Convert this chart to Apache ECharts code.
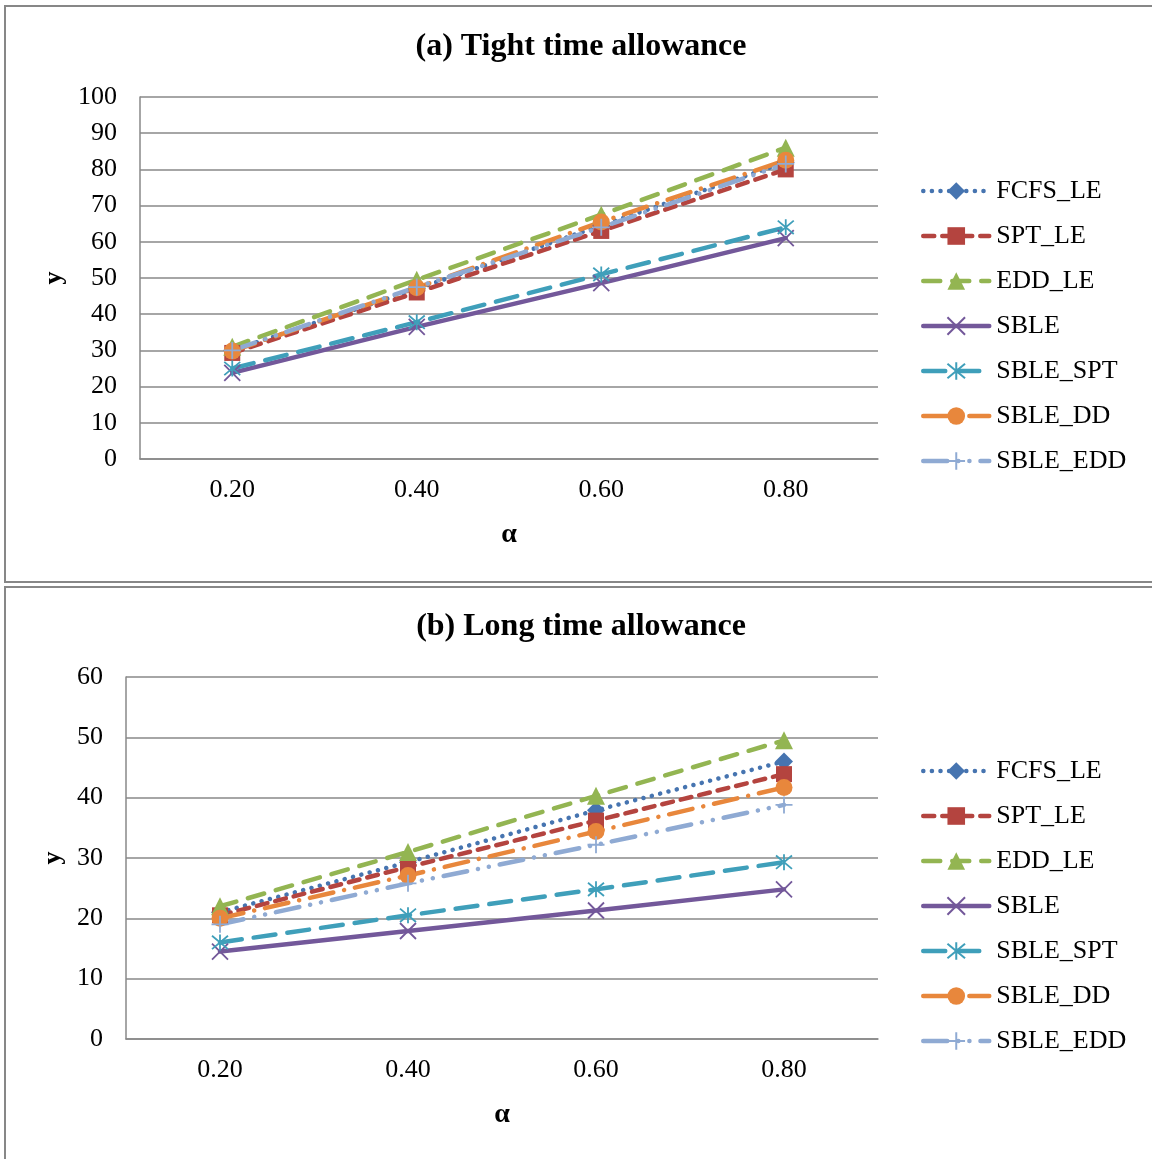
<!DOCTYPE html>
<html>
<head>
<meta charset="utf-8">
<script src="https://cdn.jsdelivr.net/npm/echarts@6/dist/echarts.min.js"></script>
<style>
html,body{margin:0;padding:0;background:#fff;}
#c{width:1152px;height:1159px;}
</style>
</head>
<body>
<div id="c"></div>
<script>
const alphaCats = ['0.20', '0.40', '0.60', '0.80'];
const seriesNames = ['FCFS_LE', 'SPT_LE', 'EDD_LE', 'SBLE', 'SBLE_SPT', 'SBLE_DD', 'SBLE_EDD'];
const yTicksA = [0, 10, 20, 30, 40, 50, 60, 70, 80, 90, 100];
const yTicksB = [0, 10, 20, 30, 40, 50, 60];
const titleA = '(a) Tight time allowance';
const titleB = '(b) Long time allowance';

// (a) Tight time allowance
const a_FCFS_LE  = [30.0, 47.0, 64.5, 82.0];
const a_SPT_LE   = [29.3, 46.0, 63.0, 80.0];
const a_EDD_LE   = [31.0, 49.5, 67.5, 86.0];
const a_SBLE     = [23.8, 36.5, 48.6, 61.0];
const a_SBLE_SPT = [25.0, 37.8, 51.0, 64.0];
const a_SBLE_DD  = [29.8, 47.3, 65.5, 82.5];
const a_SBLE_EDD = [30.0, 47.5, 64.0, 81.5];

// (b) Long time allowance
const b_FCFS_LE  = [21.0, 29.3, 37.9, 46.0];
const b_SPT_LE   = [20.5, 28.5, 36.2, 43.9];
const b_EDD_LE   = [22.0, 31.0, 40.3, 49.5];
const b_SBLE     = [14.5, 17.9, 21.3, 24.8];
const b_SBLE_SPT = [16.0, 20.5, 24.8, 29.3];
const b_SBLE_DD  = [20.0, 27.1, 34.4, 41.7];
const b_SBLE_EDD = [19.0, 25.8, 32.2, 38.8];

const dataA = [a_FCFS_LE, a_SPT_LE, a_EDD_LE, a_SBLE, a_SBLE_SPT, a_SBLE_DD, a_SBLE_EDD];
const dataB = [b_FCFS_LE, b_SPT_LE, b_EDD_LE, b_SBLE, b_SBLE_SPT, b_SBLE_DD, b_SBLE_EDD];

const FONT = '"Liberation Serif", "Times New Roman", serif';
const GRID_C = '#888888';

const styles = [
  {color: '#4674B0', dash: [0.1, 8.5], symbol: 'diamond', size: 18, stroke: false},
  {color: '#B4443F', dash: [11, 8], symbol: 'rect', size: 16, stroke: false},
  {color: '#93B552', dash: [17, 12], symbol: 'triangle', size: 18, stroke: false},
  {color: '#73589A', dash: 'solid', symbol: 'path://M0,0L10,10M10,0L0,10', size: 16, stroke: true},
  {color: '#3F9FBA', dash: [22, 12], symbol: 'path://M0,0L10,10M10,0L0,10M5,-1L5,11', size: 16, stroke: true},
  {color: '#E8873C', dash: [24, 11, 0.1, 11], symbol: 'circle', size: 17, stroke: false},
  {color: '#8FAAD3', dash: [24, 11, 0.1, 11, 0.1, 11], symbol: 'path://M5,0L5,10M0,5L10,5', size: 17, stroke: true}
];

function mkSeries(datas, idx) {
  return seriesNames.map((name, i) => {
    const s = styles[i];
    return {
      name: name,
      type: 'line',
      xAxisIndex: idx,
      yAxisIndex: idx,
      data: datas[i],
      symbol: s.symbol,
      symbolSize: s.size,
      showAllSymbol: true,
      animation: false,
      lineStyle: {color: s.color, width: 4.5, type: s.dash, cap: 'round'},
      itemStyle: s.stroke
        ? {color: s.color, borderColor: s.color, borderWidth: 1.8}
        : {color: s.color, borderWidth: 0},
      emphasis: {disabled: true}
    };
  });
}

function mkLegend(top) {
  return {
    orient: 'vertical',
    left: 916,
    top: top,
    itemWidth: 66,
    itemHeight: 22,
    itemGap: 19,
    data: seriesNames,
    lineStyle: {width: 4.5},
    textStyle: {fontFamily: FONT, fontSize: 26, color: '#000', padding: [0, 0, 0, 2]},
    selectedMode: false
  };
}

function mkY(idx, max, nameGap) {
  return {
    type: 'value', gridIndex: idx, min: 0, max: max, interval: 10,
    name: 'y', nameLocation: 'middle', nameGap: nameGap,
    nameTextStyle: {fontFamily: FONT, fontSize: 26, fontWeight: 'bold', color: '#000'},
    axisLine: {show: true, lineStyle: {color: GRID_C, width: 1.5}},
    axisTick: {show: false},
    axisLabel: {fontFamily: FONT, fontSize: 26, color: '#000', margin: 23},
    splitLine: {show: true, lineStyle: {color: GRID_C, width: 1.5}}
  };
}

function mkX(idx) {
  return {
    type: 'category', gridIndex: idx, data: alphaCats, boundaryGap: true,
    name: 'α', nameLocation: 'middle', nameGap: 62,
    nameTextStyle: {fontFamily: FONT, fontSize: 28, fontWeight: 'bold', color: '#000'},
    axisLine: {show: true, lineStyle: {color: GRID_C, width: 1.5}},
    axisTick: {show: false},
    axisLabel: {fontFamily: FONT, fontSize: 26, color: '#000', margin: 18},
    splitLine: {show: false}
  };
}

const chart = echarts.init(document.getElementById('c'), null, {renderer: 'canvas'});
chart.setOption({
  backgroundColor: '#fff',
  animation: false,
  graphic: [
    {type: 'rect', shape: {x: 5, y: 6, width: 1160, height: 576}, style: {fill: 'none', stroke: '#878787', lineWidth: 2}, silent: true},
    {type: 'rect', shape: {x: 5, y: 587, width: 1160, height: 600}, style: {fill: 'none', stroke: '#878787', lineWidth: 2}, silent: true},
    {type: 'text', x: 581, y: 47, style: {text: titleA, fontFamily: FONT, fontSize: 32, fontWeight: 'bold', fill: '#000', align: 'center', verticalAlign: 'middle'}, silent: true},
    {type: 'text', x: 581, y: 627, style: {text: titleB, fontFamily: FONT, fontSize: 32, fontWeight: 'bold', fill: '#000', align: 'center', verticalAlign: 'middle'}, silent: true}
  ],
  grid: [
    {left: 140, top: 97, width: 738, height: 362},
    {left: 126, top: 677, width: 752, height: 362}
  ],
  xAxis: [mkX(0), mkX(1)],
  yAxis: [mkY(0, 100, 65), mkY(1, 60, 51)],
  legend: [mkLegend(173), mkLegend(753)],
  series: mkSeries(dataA, 0).concat(mkSeries(dataB, 1))
});
</script>
</body>
</html>
